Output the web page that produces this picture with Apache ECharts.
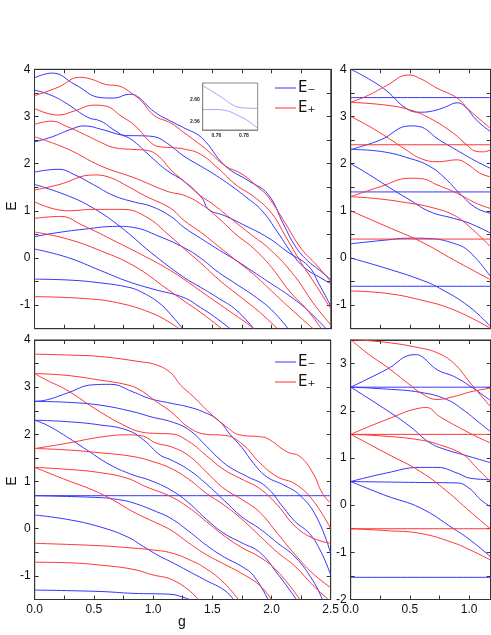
<!DOCTYPE html>
<html>
<head>
<meta charset="utf-8">
<script src="https://cdn.jsdelivr.net/npm/echarts@6/dist/echarts.min.js"></script>
<style>
  html, body { margin: 0; padding: 0; background: #fff; }
  #chart { width: 491px; height: 635px; }
</style>
</head>
<body>
<div id="chart"></div>
<script>
// ---- data: each curve is a list of [g, E] points ----

// top left panel (g 0..2.5)
const topLeftBlue = [
  [[0,3.82],[0.15,3.92],[0.34,3.68],[0.56,3.4],[0.67,3.39],[0.8,3.47],[0.87,3.42],[1.01,3.1],[1.15,2.9],[1.26,2.76],[1.41,2.55],[1.61,1.95],[1.81,1.63],[1.97,1.35],[2.1,0.72],[2.2,0.25],[2.3,-0.05],[2.4,-0.25],[2.5,-0.46]],
  [[0,3.56],[0.14,3.45],[0.28,3.26],[0.45,2.98],[0.56,2.9],[0.68,2.7],[0.77,2.595],[0.9,2.59],[1.01,2.57],[1.12,2.43],[1.26,2.16],[1.4,1.95],[1.5,1.8],[1.62,1.6],[1.78,1.3],[1.92,1.0],[2.05,0.55],[2.2,0.0],[2.3,-0.25],[2.4,-0.4],[2.5,-0.55]],
  [[0,2.46],[0.14,2.56],[0.3,2.72],[0.42,2.8],[0.56,2.73],[0.68,2.64],[0.77,2.575],[0.84,2.47],[0.98,2.15],[1.12,1.85],[1.26,1.63],[1.41,1.28],[1.47,1.03],[1.6,0.9],[1.75,0.72],[1.97,0.43],[2.14,0.12],[2.31,-0.17],[2.4,-0.55],[2.5,-1.02]],
  [[0,1.82],[0.2,1.88],[0.35,1.75],[0.5,1.55],[0.67,1.32],[0.85,1.18],[0.98,1.1],[1.15,0.88],[1.26,0.65],[1.4,0.42],[1.55,0.18],[1.7,-0.05],[1.85,-0.3],[2.0,-0.55],[2.15,-0.8],[2.3,-1.1],[2.46,-1.5]],
  [[0,1.56],[0.28,1.32],[0.5,1.05],[0.73,0.65],[0.98,0.12],[1.26,-0.41],[1.4,-0.62],[1.55,-0.85],[1.7,-1.1],[1.85,-1.5]],
  [[0,0.45],[0.15,0.52],[0.42,0.61],[0.7,0.67],[0.85,0.64],[1.04,0.47],[1.26,0.22],[1.4,0.0],[1.55,-0.3],[1.7,-0.55],[1.85,-0.8],[2.0,-1.1],[2.14,-1.5]],
  [[0,0.19],[0.28,0.01],[0.56,-0.27],[0.79,-0.5],[1.0,-0.66],[1.26,-0.84],[1.4,-1.05],[1.52,-1.25],[1.65,-1.5]],
  [[0,-0.45],[0.3,-0.47],[0.56,-0.53],[0.79,-0.62],[0.9,-0.72],[1.05,-0.95],[1.15,-1.2],[1.25,-1.5]]
];
const topLeftRed = [
  [[0,3.44],[0.2,3.62],[0.38,3.83],[0.48,3.79],[0.6,3.68],[0.72,3.64],[0.82,3.49],[0.9,3.33],[1.01,3.02],[1.15,2.86],[1.26,2.66],[1.45,2.3],[1.61,1.95],[1.75,1.78],[1.89,1.49],[1.97,1.3],[2.12,0.72],[2.25,0.2],[2.38,-0.15],[2.5,-0.5]],
  [[0,3.17],[0.2,3.03],[0.34,3.12],[0.5,3.24],[0.6,3.22],[0.73,3.01],[0.85,2.8],[0.98,2.45],[1.05,2.36],[1.15,2.34],[1.26,2.31],[1.4,2.2],[1.55,1.9],[1.7,1.55],[1.85,1.3],[2.0,0.95],[2.12,0.45],[2.25,-0.1],[2.38,-0.6],[2.5,-1.08]],
  [[0,2.83],[0.14,2.9],[0.28,2.78],[0.42,2.62],[0.56,2.45],[0.67,2.34],[0.84,2.3],[0.95,2.28],[1.05,2.15],[1.15,1.87],[1.26,1.63],[1.4,1.32],[1.5,1.15],[1.65,0.85],[1.8,0.55],[2.0,0.15],[2.2,-0.4],[2.35,-0.95],[2.5,-1.42]],
  [[0,2.57],[0.28,2.31],[0.56,1.95],[0.84,1.7],[1.07,1.46],[1.15,1.39],[1.26,1.33],[1.4,1.15],[1.55,0.85],[1.7,0.5],[1.85,0.2],[2.0,-0.2],[2.15,-0.7],[2.3,-1.1],[2.42,-1.5]],
  [[0,1.44],[0.2,1.55],[0.5,1.76],[0.62,1.72],[0.8,1.5],[0.93,1.32],[1.15,1.05],[1.26,0.8],[1.4,0.55],[1.55,0.25],[1.7,-0.05],[1.85,-0.35],[2.0,-0.7],[2.15,-1.05],[2.35,-1.5]],
  [[0,1.19],[0.28,1.0],[0.5,1.03],[0.73,1.03],[0.93,0.89],[1.15,0.45],[1.26,0.2],[1.4,-0.1],[1.55,-0.45],[1.75,-0.85],[1.9,-1.15],[2.05,-1.5]],
  [[0,0.84],[0.22,0.88],[0.4,0.7],[0.7,0.33],[0.98,-0.03],[1.15,-0.27],[1.26,-0.45],[1.4,-0.7],[1.6,-1.05],[1.8,-1.4],[1.85,-1.5]],
  [[0,0.55],[0.28,0.4],[0.56,0.15],[0.84,-0.17],[1.12,-0.66],[1.26,-0.91],[1.4,-1.15],[1.58,-1.5]],
  [[0,-0.82],[0.42,-0.86],[0.7,-0.95],[0.98,-1.16],[1.15,-1.38],[1.22,-1.5]]
];

// top right panel (g 0..1.18)
const topRightBlue = [
  [[0,4.0],[0.15,3.8],[0.3,3.55],[0.47,3.17],[0.59,3.09],[0.7,3.12],[0.8,3.2],[0.9,3.29],[0.97,3.2],[1.06,2.93],[1.18,2.68]],
  [[0,3.4],[1.18,3.4]],
  [[0,2.3],[0.25,2.5],[0.5,2.8],[0.57,2.79],[0.75,2.5],[0.92,2.25],[1.06,2.05],[1.18,1.9]],
  [[0,2.3],[0.25,2.26],[0.5,2.11],[0.67,1.94],[0.81,1.66],[0.92,1.37],[1.06,1.06],[1.18,0.95]],
  [[0,2.0],[0.16,1.76],[0.36,1.44],[0.5,1.23],[0.67,0.98],[0.87,0.84],[1.0,0.74],[1.18,0.53]],
  [[0,1.4],[1.18,1.4]],
  [[0,0.3],[0.3,0.38],[0.5,0.42],[0.67,0.41],[0.87,0.31],[1.0,0.14],[1.18,-0.39]],
  [[0,0.0],[0.3,-0.22],[0.59,-0.46],[0.75,-0.64],[1.0,-1.03],[1.18,-1.45]],
  [[0,-0.6],[1.18,-0.6]]
];
const topRightRed = [
  [[0,3.3],[0.15,3.45],[0.3,3.65],[0.49,3.88],[0.59,3.8],[0.73,3.6],[0.9,3.39],[1.0,3.14],[1.18,2.75]],
  [[0,3.3],[0.3,3.24],[0.5,3.14],[0.67,2.96],[0.87,2.64],[0.98,2.4],[1.06,2.26],[1.12,2.25],[1.18,2.29]],
  [[0,3.0],[0.15,2.8],[0.3,2.57],[0.47,2.29],[0.59,2.11],[0.73,2.04],[0.9,2.08],[0.98,2.0],[1.09,1.8],[1.18,1.72]],
  [[0,2.4],[1.18,2.4]],
  [[0,1.3],[0.25,1.51],[0.5,1.69],[0.6,1.68],[0.73,1.55],[0.9,1.37],[1.06,1.16],[1.18,1.05]],
  [[0,1.3],[0.25,1.25],[0.5,1.16],[0.67,1.08],[0.87,0.91],[1.0,0.67],[1.18,0.24]],
  [[0,1.0],[0.3,0.67],[0.59,0.35],[0.87,-0.04],[1.18,-0.46]],
  [[0,0.4],[1.18,0.4]],
  [[0,-0.7],[0.3,-0.75],[0.59,-0.89],[0.87,-1.1],[1.18,-1.49]]
];

// bottom left panel (g 0..2.5)
const bottomLeftBlue = [
  [[0,2.7],[0.1,2.73],[0.27,2.87],[0.49,3.05],[0.64,3.06],[0.83,2.9],[0.97,2.76],[1.15,2.66],[1.3,2.58],[1.42,2.48],[1.55,2.3],[1.65,2.0],[1.75,1.72],[1.85,1.38],[1.96,1.1],[2.1,0.93],[2.24,0.71],[2.38,0.25],[2.5,-0.52]],
  [[0,2.7],[0.27,2.68],[0.55,2.62],[0.83,2.48],[1.0,2.36],[1.15,2.27],[1.3,2.1],[1.45,1.75],[1.55,1.5],[1.65,1.3],[1.8,1.1],[1.95,0.9],[2.1,0.45],[2.2,0.15],[2.32,-0.1],[2.42,-0.5],[2.5,-0.98]],
  [[0,2.3],[0.27,2.27],[0.55,2.2],[0.78,2.09],[0.92,1.88],[1.06,1.56],[1.15,1.46],[1.3,1.25],[1.45,0.95],[1.6,0.6],[1.75,0.25],[1.9,0.0],[2.05,-0.3],[2.2,-0.6],[2.35,-1.1],[2.43,-1.5]],
  [[0,2.3],[0.1,2.2],[0.27,1.95],[0.44,1.67],[0.64,1.35],[0.83,1.14],[0.97,1.03],[1.15,0.82],[1.3,0.55],[1.45,0.2],[1.6,-0.1],[1.75,-0.3],[1.9,-0.5],[2.05,-0.95],[2.21,-1.5]],
  [[0,0.7],[0.55,0.66],[0.7,0.62],[0.83,0.55],[1.03,0.36],[1.15,0.22],[1.3,-0.05],[1.45,-0.35],[1.6,-0.6],[1.75,-0.8],[1.85,-1.0],[1.97,-1.5]],
  [[0,0.29],[0.27,0.2],[0.55,0.04],[0.78,-0.17],[0.92,-0.38],[1.06,-0.59],[1.15,-0.7],[1.3,-0.9],[1.45,-1.1],[1.6,-1.3],[1.68,-1.5]],
  [[0,-1.3],[0.55,-1.33],[0.83,-1.37],[1.15,-1.39],[1.25,-1.45],[1.31,-1.5]],
  [[0,0.7],[2.5,0.7]]
];
const bottomLeftRed = [
  [[0,3.7],[0.3,3.68],[0.55,3.65],[0.89,3.54],[1.03,3.47],[1.15,3.3],[1.23,3.05],[1.34,2.8],[1.48,2.45],[1.62,2.16],[1.73,1.99],[1.9,1.95],[1.96,1.92],[2.13,1.63],[2.24,1.53],[2.35,1.18],[2.43,0.75],[2.5,0.54]],
  [[0,3.29],[0.27,3.25],[0.55,3.15],[0.78,3.05],[0.89,2.94],[1.03,2.69],[1.15,2.48],[1.3,2.15],[1.45,2.0],[1.6,1.98],[1.75,1.8],[1.9,1.4],[2.05,1.1],[2.2,0.95],[2.35,0.6],[2.5,0.0]],
  [[0,3.29],[0.1,3.15],[0.27,2.94],[0.55,2.48],[0.78,2.16],[0.9,2.05],[1.03,2.02],[1.15,2.01],[1.3,1.85],[1.45,1.55],[1.6,1.25],[1.75,1.05],[1.9,0.85],[2.05,0.5],[2.2,0.05],[2.35,-0.2],[2.5,-0.31]],
  [[0,1.7],[0.27,1.81],[0.55,1.94],[0.78,1.99],[0.9,1.97],[1.03,1.81],[1.15,1.74],[1.3,1.55],[1.45,1.2],[1.6,0.85],[1.75,0.62],[1.9,0.35],[2.05,-0.1],[2.2,-0.55],[2.35,-0.95],[2.5,-1.25]],
  [[0,1.7],[0.27,1.67],[0.55,1.61],[0.83,1.53],[1.0,1.42],[1.15,1.28],[1.3,1.05],[1.45,0.75],[1.6,0.5],[1.75,0.2],[1.9,-0.15],[2.05,-0.5],[2.2,-0.8],[2.35,-1.2],[2.48,-1.5]],
  [[0,1.3],[0.27,1.26],[0.55,1.19],[0.78,1.07],[0.94,0.89],[1.15,0.68],[1.3,0.45],[1.45,0.15],[1.6,-0.15],[1.75,-0.4],[1.9,-0.6],[2.05,-0.9],[2.24,-1.5]],
  [[0,1.3],[0.1,1.2],[0.27,1.03],[0.49,0.82],[0.66,0.61],[0.83,0.36],[0.97,0.19],[1.15,-0.03],[1.3,-0.3],[1.45,-0.55],[1.6,-0.75],[1.75,-0.95],[1.9,-1.2],[2.0,-1.5]],
  [[0,-0.31],[0.55,-0.36],[0.83,-0.41],[1.0,-0.45],[1.15,-0.51],[1.3,-0.65],[1.45,-0.85],[1.6,-1.15],[1.72,-1.5]],
  [[0,-0.71],[0.27,-0.72],[0.55,-0.77],[0.83,-0.86],[1.0,-0.98],[1.15,-1.07],[1.3,-1.3],[1.38,-1.5]]
];

// bottom right panel (g 0..1.18)
const bottomRightBlue = [
  [[0,2.5],[0.3,2.87],[0.54,3.19],[0.6,3.15],[0.73,2.87],[0.87,2.73],[1.01,2.52],[1.18,2.22]],
  [[0,2.5],[1.18,2.5]],
  [[0,2.5],[0.3,2.46],[0.59,2.39],[0.81,2.24],[0.95,2.02],[1.09,1.74],[1.18,1.56]],
  [[0,2.5],[0.3,2.02],[0.5,1.67],[0.67,1.32],[0.81,1.17],[0.95,1.07],[1.18,0.9]],
  [[0,0.5],[0.3,0.68],[0.59,0.8],[0.73,0.8],[0.9,0.68],[1.01,0.57],[1.18,0.54]],
  [[0,0.5],[0.59,0.48],[0.9,0.47],[1.0,0.36],[1.1,0.11],[1.18,-0.03]],
  [[0,0.5],[0.3,0.2],[0.59,-0.06],[0.87,-0.5],[1.01,-0.74],[1.18,-1.09]],
  [[0,-1.53],[1.18,-1.53]]
];
const bottomRightRed = [
  [[0,3.51],[0.3,3.45],[0.59,3.33],[0.73,3.23],[0.87,3.01],[1.01,2.59],[1.18,2.09]],
  [[0,3.51],[0.15,3.2],[0.3,2.94],[0.5,2.55],[0.59,2.38],[0.73,2.24],[0.87,2.3],[1.01,2.4],[1.18,2.48]],
  [[0,1.5],[0.3,1.81],[0.59,2.06],[0.64,2.07],[0.75,1.88],[0.95,1.6],[1.09,1.42],[1.18,1.32]],
  [[0,1.5],[1.18,1.5]],
  [[0,1.5],[0.3,1.46],[0.59,1.38],[0.75,1.28],[0.95,1.07],[1.06,0.8],[1.18,0.5]],
  [[0,1.5],[0.3,1.1],[0.59,0.71],[0.81,0.3],[1.01,-0.14],[1.18,-0.5]],
  [[0,-0.5],[1.18,-0.5]],
  [[0,-0.5],[0.3,-0.54],[0.59,-0.6],[0.87,-0.8],[1.01,-0.95],[1.18,-1.16]]
];

// inset: zoom of the avoided crossing near g = 0.77
const insetBlue = [
  [[0.75,2.625],[0.755,2.618],[0.76,2.61],[0.765,2.602],[0.77,2.593],[0.775,2.587],[0.78,2.585],[0.79,2.584]],
  [[0.75,2.582],[0.76,2.582],[0.765,2.581],[0.77,2.578],[0.775,2.572],[0.78,2.566],[0.785,2.558],[0.79,2.548]]
];

const legendNames = ['E\u208B', 'E\u208A'];

// ---- chart ----
const BLUE = '#3434ff';
const RED = '#ff3434';
const FRAME = '#333';
const FONT = 'Liberation Sans, Arial, sans-serif';

const chart = echarts.init(document.getElementById('chart'), null, { renderer: 'canvas' });

const gFmt = v => (Math.abs(v * 2 - Math.round(v * 2)) < 1e-6 ? v.toFixed(1) : '');
const eFmt = v => (Math.abs(v - Math.round(v)) < 1e-6 ? String(Math.round(v)) : '');

function axis(grid, min, max, interval, pos, fmt) {
  return {
    type: 'value', gridIndex: grid, min: min, max: max, interval: interval, position: pos,
    axisLine: { show: true, onZero: false, lineStyle: { color: FRAME, width: 1 } },
    axisTick: { show: true, inside: true, length: 4, lineStyle: { color: FRAME } },
    splitLine: { show: false },
    axisLabel: fmt ? { show: true, color: '#111', fontSize: 12, fontFamily: FONT, margin: 4, formatter: fmt }
                   : { show: false }
  };
}

const panels = [
  { grid: { left: 34.5, top: 69.3, width: 296.3, height: 259.4 }, gmax: 2.5, emin: -1.5, emax: 4, xl: false, blue: topLeftBlue, red: topLeftRed },
  { grid: { left: 350.7, top: 69.3, width: 140, height: 259.4 }, gmax: 1.183, emin: -1.5, emax: 4, xl: false, blue: topRightBlue, red: topRightRed },
  { grid: { left: 34.7, top: 340, width: 296, height: 259.5 }, gmax: 2.5, emin: -1.5, emax: 4, xl: true, blue: bottomLeftBlue, red: bottomLeftRed },
  { grid: { left: 350.7, top: 340, width: 140, height: 259.5 }, gmax: 1.183, emin: -2, emax: 3.5, xl: true, blue: bottomRightBlue, red: bottomRightRed }
];

const grids = [], xAxes = [], yAxes = [], series = [];

function addLines(curves, color, xi, yi, name, width) {
  curves.forEach(c => {
    series.push({
      type: 'line', name: name, xAxisIndex: xi, yAxisIndex: yi, data: c,
      showSymbol: false, symbol: 'none', smooth: 0.45,
      lineStyle: { color: color, width: width }, silent: true, animation: false
    });
  });
}

panels.forEach((p, i) => {
  grids.push(Object.assign({ show: true, borderColor: FRAME, borderWidth: 1, outerBoundsMode: 'none' }, p.grid));
  xAxes.push(axis(i, 0, p.gmax, 0.25, 'bottom', p.xl ? gFmt : null));
  xAxes.push(axis(i, 0, p.gmax, 0.25, 'top', null));
  yAxes.push(axis(i, p.emin, p.emax, 0.5, 'left', eFmt));
  yAxes.push(axis(i, p.emin, p.emax, 0.5, 'right', null));
  addLines(p.blue, BLUE, 2 * i, 2 * i, legendNames[0], 1);
  addLines(p.red, RED, 2 * i, 2 * i, legendNames[1], 1);
});

// inset grid
grids.push({ show: true, borderColor: '#888', borderWidth: 1, left: 202.7, top: 83, width: 55, height: 47, outerBoundsMode: 'none', z: 5 });
const insetLabel = { show: true, color: '#222', fontSize: 5, fontWeight: 'bold', fontFamily: FONT, margin: 3 };
xAxes.push({
  type: 'value', gridIndex: 4, min: 0.75, max: 0.79, interval: 0.01,
  axisLine: { show: true, onZero: false, lineStyle: { color: '#888' } }, axisTick: { show: false }, splitLine: { show: false },
  axisLabel: Object.assign({}, insetLabel, { formatter: v => (Math.abs(v - 0.76) < 1e-6 || Math.abs(v - 0.78) < 1e-6 ? v.toFixed(2) : '') })
});
yAxes.push({
  type: 'value', gridIndex: 4, min: 2.545, max: 2.63, interval: 0.005,
  axisLine: { show: true, onZero: false, lineStyle: { color: '#888' } }, axisTick: { show: false }, splitLine: { show: false },
  axisLabel: Object.assign({}, insetLabel, { formatter: v => (Math.abs(v - 2.56) < 1e-6 || Math.abs(v - 2.6) < 1e-6 ? v.toFixed(2) : '') })
});
addLines(insetBlue, '#8c8cff', 8, 8, 'inset', 0.8);

// legends, axis titles
function legendGroup(y0) {
  return [
    { type: 'line', shape: { x1: 275, y1: y0, x2: 296, y2: y0 }, style: { stroke: BLUE, lineWidth: 1 } },
    { type: 'text', x: 298, y: y0, style: { text: legendNames[0], fontSize: 15, fontFamily: 'DejaVu Sans, ' + FONT, fill: '#111', align: 'left', verticalAlign: 'middle' } },
    { type: 'line', shape: { x1: 275, y1: y0 + 20, x2: 296, y2: y0 + 20 }, style: { stroke: RED, lineWidth: 1 } },
    { type: 'text', x: 298, y: y0 + 20, style: { text: legendNames[1], fontSize: 15, fontFamily: 'DejaVu Sans, ' + FONT, fill: '#111', align: 'left', verticalAlign: 'middle' } }
  ];
}
const axisTitle = (t, x, y, rot) => ({
  type: 'text', x: x, y: y, rotation: rot,
  style: { text: t, fontSize: 14, fontFamily: FONT, fill: '#111', align: 'center', verticalAlign: 'middle' }
});

chart.setOption({
  animation: false,
  backgroundColor: '#fff',
  grid: grids,
  xAxis: xAxes,
  yAxis: yAxes,
  series: series,
  graphic: [].concat(
    legendGroup(88),
    legendGroup(362),
    [axisTitle('E', 12, 206, Math.PI / 2), axisTitle('E', 12, 481, Math.PI / 2), axisTitle('g', 182, 622, 0)]
  )
});
</script>
</body>
</html>
